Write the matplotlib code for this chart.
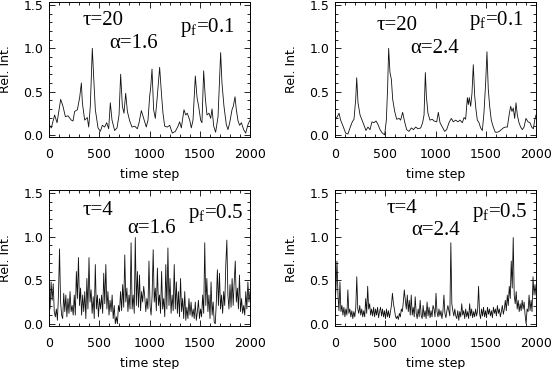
# Third-party imports
import numpy as np
import matplotlib
matplotlib.use("Agg")
import matplotlib.pyplot as plt
from matplotlib.ticker import MultipleLocator

# Data (time step, relative intensity)
t_tl = [0, 23, 56, 80, 116, 139, 163, 189, 222, 239, 255, 282, 305, 322, 332, 355, 381, 395, 411, 431,
        444, 461, 488, 511, 531, 554, 574, 594, 610, 627, 653, 677, 697, 713, 730, 746, 763, 780, 803, 826,
        853, 879, 896, 919, 942, 968, 985, 1002, 1012, 1025, 1041, 1058, 1078, 1101, 1118, 1134, 1151, 1177,
        1201, 1227, 1257, 1284, 1300, 1317, 1343, 1360, 1376, 1400, 1416, 1433, 1456, 1473, 1489, 1509, 1522,
        1539, 1555, 1572, 1592, 1609, 1622, 1639, 1658, 1682, 1708, 1721, 1741, 1764, 1781, 1798, 1821, 1834,
        1851, 1864, 1881, 1897, 1914, 1937, 1957, 1980, 2000]
v_tl = [0.12, 0.08, 0.23, 0.14, 0.41, 0.33, 0.21, 0.22, 0.17, 0.16, 0.27, 0.29, 0.43, 0.60, 0.37, 0.17, 0.20,
        0.09, 0.33, 1.00, 0.68, 0.29, 0.08, 0.04, 0.11, 0.09, 0.14, 0.07, 0.37, 0.17, 0.05, 0.08, 0.23, 0.70,
        0.33, 0.25, 0.48, 0.27, 0.16, 0.09, 0.10, 0.07, 0.14, 0.28, 0.19, 0.09, 0.17, 0.45, 0.55, 0.76, 0.29,
        0.19, 0.45, 0.78, 0.49, 0.25, 0.10, 0.09, 0.11, 0.02, 0.04, 0.10, 0.15, 0.08, 0.29, 0.23, 0.25, 0.17,
        0.08, 0.17, 0.68, 0.43, 0.33, 0.17, 0.14, 0.74, 0.43, 0.23, 0.25, 0.19, 0.30, 0.10, 0.03, 0.21, 0.95,
        0.60, 0.33, 0.12, 0.06, 0.14, 0.29, 0.33, 0.44, 0.29, 0.16, 0.11, 0.14, 0.06, 0.02, 0.12, 0.17]

t_tr = [0, 23, 40, 56, 80, 106, 129, 149, 172, 189, 206, 216, 229, 249, 269, 289, 308, 328, 348, 368, 388,
        408, 428, 448, 471, 494, 511, 524, 534, 547, 561, 574, 594, 614, 637, 653, 673, 693, 713, 736, 760,
        780, 803, 826, 853, 872, 886, 899, 909, 925, 945, 968, 985, 1012, 1028, 1045, 1068, 1091, 1111, 1134,
        1158, 1177, 1201, 1224, 1244, 1267, 1284, 1300, 1317, 1327, 1336, 1350, 1363, 1376, 1390, 1403, 1416,
        1433, 1449, 1466, 1482, 1499, 1512, 1525, 1539, 1555, 1575, 1595, 1615, 1635, 1655, 1675, 1695, 1715,
        1735, 1748, 1761, 1774, 1788, 1801, 1814, 1831, 1847, 1864, 1881, 1900, 1921, 1940, 1957, 1974, 1987,
        2000]
v_tr = [0.17, 0.21, 0.25, 0.17, 0.10, 0.02, 0.01, 0.08, 0.15, 0.18, 0.41, 0.66, 0.37, 0.23, 0.17, 0.11, 0.05,
        0.09, 0.06, 0.15, 0.14, 0.16, 0.12, 0.06, 0.02, 0.00, 0.17, 0.56, 1.00, 0.72, 0.64, 0.41, 0.27, 0.18,
        0.19, 0.17, 0.26, 0.15, 0.06, 0.04, 0.08, 0.06, 0.09, 0.07, 0.08, 0.14, 0.23, 0.72, 0.45, 0.25, 0.17,
        0.18, 0.16, 0.15, 0.26, 0.14, 0.09, 0.04, 0.06, 0.14, 0.19, 0.15, 0.17, 0.15, 0.17, 0.14, 0.20, 0.18,
        0.43, 0.35, 0.43, 0.33, 0.48, 0.81, 0.45, 0.29, 0.17, 0.14, 0.08, 0.05, 0.25, 0.60, 0.96, 0.53, 0.33,
        0.17, 0.09, 0.03, 0.03, 0.04, 0.06, 0.08, 0.09, 0.09, 0.25, 0.33, 0.27, 0.31, 0.19, 0.37, 0.23, 0.14,
        0.09, 0.06, 0.09, 0.19, 0.15, 0.14, 0.09, 0.07, 0.17, 0.23]

# bottom panels: values sampled about every 10 time steps
v_bl = [0.33, 0.17, 0.48, 0.27, 0.46, 0.14, 0.08, 0.17, 0.04, 0.33, 0.86, 0.25, 0.10, 0.06, 0.35, 0.14, 0.33,
        0.08, 0.29, 0.12, 0.37, 0.14, 0.21, 0.10, 0.33, 0.10, 0.60, 0.29, 0.76, 0.21, 0.41, 0.10, 0.33, 0.14,
        0.37, 0.06, 0.52, 0.17, 0.76, 0.25, 0.39, 0.12, 0.31, 0.06, 0.68, 0.17, 0.33, 0.08, 0.29, 0.17, 0.33,
        0.12, 0.58, 0.23, 0.68, 0.17, 0.37, 0.10, 0.27, 0.14, 0.33, 0.06, 0.21, 0.00, 0.08, 0.00, 0.21, 0.14,
        0.37, 0.15, 0.45, 0.19, 0.79, 0.25, 0.41, 0.14, 0.33, 0.17, 0.93, 0.17, 0.33, 0.12, 0.99, 0.21, 0.60,
        0.19, 0.56, 0.15, 0.37, 0.25, 0.43,
        0.31, 0.14, 0.29, 0.17, 0.72, 0.21, 0.10, 0.33, 0.85, 0.25, 0.41, 0.15, 0.64, 0.21, 0.33, 0.12, 0.60,
        0.17, 0.29, 0.08, 0.68, 0.17, 0.87, 0.21, 0.52, 0.12, 0.33, 0.15, 0.68, 0.17, 0.48, 0.12, 0.37, 0.08,
        0.52, 0.14, 0.29, 0.06, 0.37, 0.04, 0.19, 0.06, 0.29, 0.10, 0.25, 0.08, 0.17, 0.06, 0.25, 0.04, 0.14,
        0.27, 0.06, 0.17, 0.08, 0.33, 0.12, 0.93, 0.21, 0.52, 0.14, 0.33, 0.06, 0.48, 0.10, 0.25, 0.02, 0.00,
        0.25, 0.62, 0.21, 0.58, 0.17, 0.33, 0.12, 0.37, 0.21, 0.68, 0.96, 0.33, 0.17, 0.45, 0.19, 0.52, 0.21,
        0.48, 0.72, 0.25, 0.41, 0.17, 0.56, 0.14, 0.29, 0.12, 0.21, 0.10, 0.37, 0.17, 0.48, 0.25, 0.37]

v_br = [0.21, 0.41, 0.72, 0.33, 0.15, 0.48, 0.14, 0.21, 0.10, 0.19, 0.08, 0.17, 0.10, 0.39, 0.12, 0.17, 0.08,
        0.15, 0.06, 0.14, 0.08, 0.19, 0.54, 0.17, 0.12, 0.21, 0.10, 0.17, 0.08, 0.15, 0.08, 0.29, 0.12, 0.43,
        0.17, 0.23, 0.10, 0.17, 0.09, 0.19, 0.08, 0.17, 0.10, 0.19, 0.07, 0.14, 0.19, 0.09, 0.17, 0.08, 0.15,
        0.06, 0.17, 0.08, 0.15, 0.07, 0.14, 0.21, 0.35, 0.23, 0.17, 0.09, 0.06, 0.09, 0.05, 0.12, 0.08, 0.17,
        0.14, 0.25, 0.39, 0.27, 0.17, 0.33, 0.14, 0.27, 0.10, 0.33, 0.10, 0.19, 0.08, 0.31, 0.12, 0.06, 0.17,
        0.08, 0.27, 0.10, 0.06, 0.21, 0.08, 0.15, 0.06, 0.25, 0.09, 0.19, 0.07, 0.15, 0.08, 0.21,
        0.17, 0.08, 0.35, 0.14, 0.08, 0.17, 0.09, 0.15, 0.06, 0.14, 0.33, 0.12, 0.07, 0.15, 0.21, 0.15, 0.09,
        0.93, 0.23, 0.15, 0.09, 0.17, 0.09, 0.06, 0.15, 0.04, 0.14, 0.08, 0.23, 0.10, 0.15, 0.06, 0.17, 0.08,
        0.14, 0.06, 0.23, 0.09, 0.17, 0.07, 0.14, 0.08, 0.17, 0.09, 0.15, 0.43, 0.12, 0.06, 0.17, 0.09, 0.19,
        0.08, 0.15, 0.07, 0.19, 0.11, 0.17, 0.09, 0.15, 0.07, 0.19, 0.12, 0.17, 0.09, 0.21, 0.12, 0.17, 0.08,
        0.14, 0.21, 0.11, 0.17, 0.27, 0.15, 0.33, 0.21, 0.43, 0.29, 0.72, 0.41, 0.99, 0.33, 0.23, 0.37, 0.17,
        0.27, 0.14, 0.23, 0.15, 0.27, 0.17, 0.25, 0.10, 0.00, 0.17, 0.14, 0.33, 0.15, 0.27, 0.14, 0.54, 0.33,
        0.45, 0.33]

t_bl = np.linspace(0, 2000, len(v_bl))
t_br = np.linspace(0, 2000, len(v_br))

taus = ["20", "20", "4", "4"]
alphas = ["1.6", "2.4", "1.6", "2.4"]
pfs = ["0.1", "0.1", "0.5", "0.5"]

# Plot setup
plt.rcParams["mathtext.fontset"] = "custom"
plt.rcParams["mathtext.rm"] = "Liberation Serif"
plt.rcParams["font.size"] = 9

W, H = 553, 369
fig = plt.figure(figsize=(W / 100, H / 100), dpi=100)

rects = [(49, 2, 201, 135), (335, 2, 201, 135), (49, 190, 201, 136), (335, 190, 201, 136)]
series = [(t_tl, v_tl), (t_tr, v_tr), (t_bl, v_bl), (t_br, v_br)]
tau_pos = [(0.165, 0.865), (0.205, 0.825), (0.165, 0.85), (0.255, 0.865)]
alpha_pos = [(0.30, 0.695), (0.375, 0.655), (0.39, 0.715), (0.38, 0.705)]
pf_pos = [(0.65, 0.81), (0.665, 0.86), (0.69, 0.825), (0.68, 0.835)]
serif = dict(family="Liberation Serif", size=15, va="center", ha="left")

for i in range(4):
    x0, y0, w, h = rects[i]
    ax = fig.add_axes([x0 / W, 1 - (y0 + h) / H, w / W, h / H])
    t, v = series[i]
    ax.plot(t, v, "-", color="#111111", lw=0.6)
    ax.set_xlim(0, 2000)
    ax.set_ylim(-0.025, 1.535)
    ax.xaxis.set_major_locator(MultipleLocator(500))
    ax.xaxis.set_minor_locator(MultipleLocator(100))
    ax.yaxis.set_major_locator(MultipleLocator(0.5))
    ax.yaxis.set_minor_locator(MultipleLocator(0.1))
    ax.yaxis.set_major_formatter(plt.FormatStrFormatter("%.1f"))
    ax.tick_params(which="both", direction="in", top=True, right=True, width=0.6)
    ax.tick_params(which="major", length=4.5)
    ax.tick_params(which="minor", length=2.2)
    ax.tick_params(axis="x", pad=8)
    ax.tick_params(axis="y", pad=4)
    for s in ax.spines.values():
        s.set_linewidth(0.7)
    ax.set_xlabel("time step", labelpad=5)
    ax.set_ylabel("Rel. Int.", labelpad=8)
    ax.text(*tau_pos[i], "τ=" + taus[i], transform=ax.transAxes, **serif)
    ax.text(*alpha_pos[i], "α=" + alphas[i], transform=ax.transAxes, **serif)
    ax.text(*pf_pos[i], "p$_{\\rm f}$=" + pfs[i], transform=ax.transAxes, **serif)

fig.savefig("out.png", dpi=100)
